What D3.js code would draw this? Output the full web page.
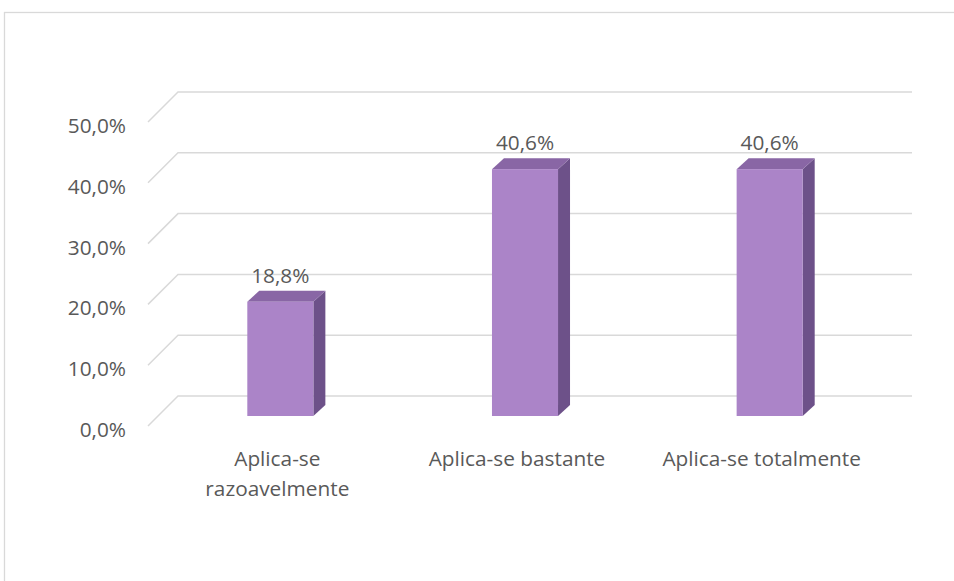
<!DOCTYPE html>
<html>
<head>
<meta charset="utf-8">
<script src="https://cdn.jsdelivr.net/npm/d3@7"></script>
<style>
  html, body { margin: 0; padding: 0; background: #fff; }
  svg { display: block; }
  text { font-family: "Open Sans", "Liberation Sans", sans-serif; fill: #595959; }
</style>
</head>
<body>
<svg id="chart" width="954" height="581"></svg>
<script>
// ---- data ----
const categories = ["Aplica-se razoavelmente", "Aplica-se bastante", "Aplica-se totalmente"];
const values = [0.188, 0.406, 0.406];
const yTicks = [0, 0.1, 0.2, 0.3, 0.4, 0.5];

// ---- layout ----
const depth = 30;          // 3D floor depth offset
const barDepthOff = 10;    // bar front face offset from front plane
const barSide = {dx: 12, dy: 11};
const backLeft = 178, backRight = 912;
const backBottom = 396, backTop = 92;
const fontSize = 20.8;

const svg = d3.select("#chart");
const locale = d3.formatLocale({decimal: ",", thousands: ".", grouping: [3], currency: ["", "€"], percent: "%"});
const fmt = locale.format(".1%");

const y = d3.scaleLinear().domain([0, 0.5]).range([backBottom, backTop]);
const x = d3.scaleBand().domain(categories)
  .range([backLeft - depth, backRight - depth])
  .paddingInner(0.73).paddingOuter(0.365);

// border
svg.append("rect").attr("x", 4.5).attr("y", 12.5).attr("width", 1000).attr("height", 1000)
  .attr("fill", "none").attr("stroke", "#d9d9d9").attr("stroke-width", 1.3);

// gridlines (side wall + back wall)
svg.append("g").selectAll("path").data(yTicks).join("path")
  .attr("d", t => `M${backLeft - depth},${y(t) + depth}L${backLeft},${y(t)}L${backRight},${y(t)}`)
  .attr("fill", "none").attr("stroke", "#d9d9d9").attr("stroke-width", 1.5);

// y labels
svg.append("g").selectAll("text").data(yTicks).join("text")
  .attr("x", 126).attr("y", t => y(t) + depth + 3)
  .attr("text-anchor", "end").attr("dominant-baseline", "central")
  .attr("font-size", fontSize).text(t => fmt(t));

// bars
const bw = x.bandwidth();
const bars = svg.append("g").selectAll("g").data(categories.map((c, i) => ({c, v: values[i]}))).join("g");
const fx = d => x(d.c) + barDepthOff;
const fyTop = d => y(d.v) + depth - barDepthOff;
const fyBot = d => y(0) + depth - barDepthOff;

// side face
bars.append("path")
  .attr("d", d => {
    const x1 = fx(d) + bw, t = fyTop(d), b = fyBot(d);
    return `M${x1},${t}L${x1 + barSide.dx},${t - barSide.dy}L${x1 + barSide.dx},${b - barSide.dy}L${x1},${b}Z`;
  })
  .attr("fill", "#6d5189");
// top face
bars.append("path")
  .attr("d", d => {
    const x0 = fx(d), x1 = x0 + bw, t = fyTop(d);
    return `M${x0},${t}L${x0 + barSide.dx},${t - barSide.dy}L${x1 + barSide.dx},${t - barSide.dy}L${x1},${t}Z`;
  })
  .attr("fill", "#8966a5");
// front face
bars.append("rect")
  .attr("x", fx).attr("y", fyTop).attr("width", bw).attr("height", d => fyBot(d) - fyTop(d))
  .attr("fill", "#ab84c8");

// data labels
bars.append("text")
  .attr("x", d => fx(d) + bw / 2)
  .attr("y", d => fyTop(d) - barSide.dy - 8)
  .attr("text-anchor", "middle").attr("font-size", fontSize)
  .text(d => fmt(d.v));

// category labels
const catG = svg.append("g").selectAll("text").data(categories).join("text")
  .attr("text-anchor", "middle").attr("font-size", fontSize);
catG.each(function(c) {
  const lines = c.length > 22 ? c.split(" ") : [c];
  const cx = x(c) + bw / 2 + (lines.length > 1 ? 7 : 2);
  d3.select(this).selectAll("tspan").data(lines).join("tspan")
    .attr("x", cx).attr("y", (l, i) => 466 + i * 30).text(l => l);
});
</script>
</body>
</html>
